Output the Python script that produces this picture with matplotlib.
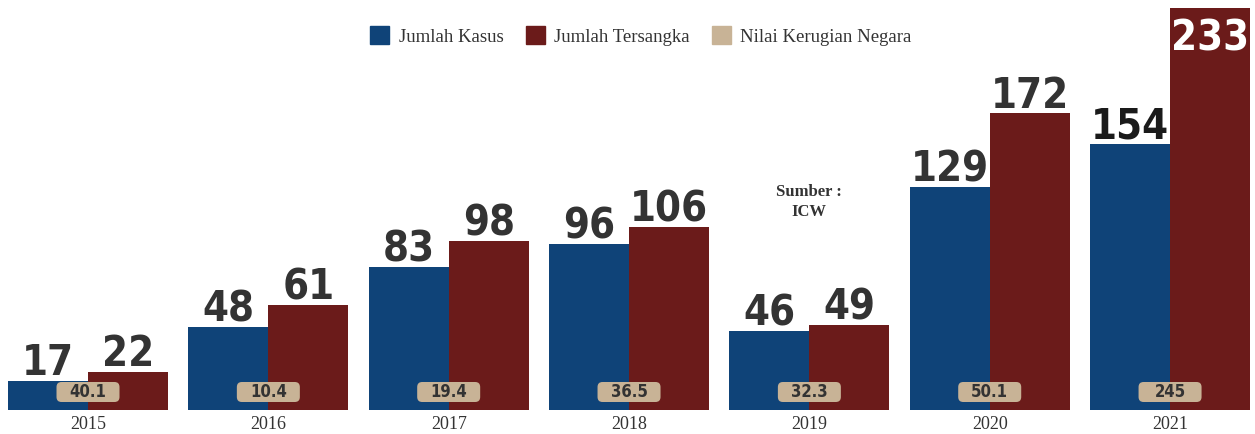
import matplotlib.pyplot as plt
from matplotlib import font_manager
from matplotlib.patches import FancyBboxPatch, Patch
import numpy as np

years = ['2015', '2016', '2017', '2018', '2019', '2020', '2021']
kasus = [17, 48, 83, 96, 46, 129, 154]
tersangka = [22, 61, 98, 106, 49, 172, 233]
kerugian = ['40.1', '10.4', '19.4', '36.5', '32.3', '50.1', '245']

c_blue = '#0f4378'
c_red = '#6b1b1a'
c_tan = '#c8b396'
serif = ['Liberation Serif', 'DejaVu Serif']

# look for a condensed bold sans for the big numbers
num_fp = None
for f in font_manager.fontManager.ttflist:
    narrow = ('ondensed' in f.name or 'arrow' in f.name or 'Cond' in f.fname
              or f.stretch in ('condensed', 'semi-condensed', 'extra-condensed', 'ultra-condensed'))
    bold = f.weight in ('bold', 'heavy', 'black', 'extra bold', 700, 800, 900) or 'Bold' in f.fname
    if narrow and bold and 'Serif' not in f.name and 'Mono' not in f.name:
        num_fp = f.fname
        break
if num_fp:
    big = dict(fontproperties=font_manager.FontProperties(fname=num_fp, size=30))
    small = dict(fontproperties=font_manager.FontProperties(fname=num_fp, size=12))
else:
    big = dict(family='DejaVu Sans', fontweight='bold', fontsize=25)
    small = dict(family='DejaVu Sans', fontweight='bold', fontsize=10)

fig = plt.figure(figsize=(12.55, 4.34), dpi=100)
ax = fig.add_axes([0, 24/434, 1, 410/434])

x = np.arange(len(years))
w = 0.444
ax.bar(x - w/2, kasus, w, color=c_blue, label='Jumlah Kasus')
ax.bar(x + w/2, tersangka, w, color=c_red, label='Jumlah Tersangka')

ax.set_xlim(-0.488, 6.471)
ymax = 233 * 410 / 402
ax.set_ylim(0, ymax)

for i in x:
    ax.annotate(str(kasus[i]), (i - w/2, kasus[i]), xytext=(0, 4), textcoords='offset points',
                ha='center', va='baseline', color='#1a1a1a' if i == 6 else '#333333', **big)
    if tersangka[i] == max(tersangka):
        ax.annotate(str(tersangka[i]), (i + w/2, tersangka[i]), xytext=(0, -7), textcoords='offset points',
                    ha='center', va='top', color='white', **big)
    else:
        ax.annotate(str(tersangka[i]), (i + w/2, tersangka[i]), xytext=(0, 4), textcoords='offset points',
                    ha='center', va='baseline', color='#333333', **big)

# badge kerugian negara
px_x = 1 / 180.33
px_y = ymax / 410
bw, bh = 63 * px_x, 20 * px_y
for i in x:
    box = FancyBboxPatch((i - bw/2, 8 * px_y), bw, bh,
                         boxstyle='round,pad=0,rounding_size=%f' % (5 * px_x),
                         mutation_aspect=px_y / px_x, facecolor=c_tan, edgecolor='none', zorder=3)
    ax.add_patch(box)
    ax.text(i, 18 * px_y, kerugian[i], ha='center', va='center', color='#333333', zorder=4, **small)

ax.text(4, 208 * px_y, 'Sumber :\nICW', ha='center', va='center', fontsize=12, fontweight='bold',
        family=serif, color='#333333', linespacing=1.4)

ax.set_xticks(x)
ax.set_xticklabels(years, family=serif, fontsize=13, color='#333333')
ax.tick_params(axis='x', length=0, pad=4)
ax.set_yticks([])
for s in ax.spines.values():
    s.set_visible(False)

handles = [Patch(color=c_blue), Patch(color=c_red), Patch(color=c_tan)]
fig.legend(handles, ['Jumlah Kasus', 'Jumlah Tersangka', 'Nilai Kerugian Negara'],
           loc='center', bbox_to_anchor=(641/1255, 1 - 36/434), ncol=3, frameon=False,
           prop={'family': serif, 'size': 13.5}, handlelength=1.0, handleheight=1.1,
           handletextpad=0.5, columnspacing=1.2, labelcolor='#333333')

fig.savefig('out.png', dpi=100)
